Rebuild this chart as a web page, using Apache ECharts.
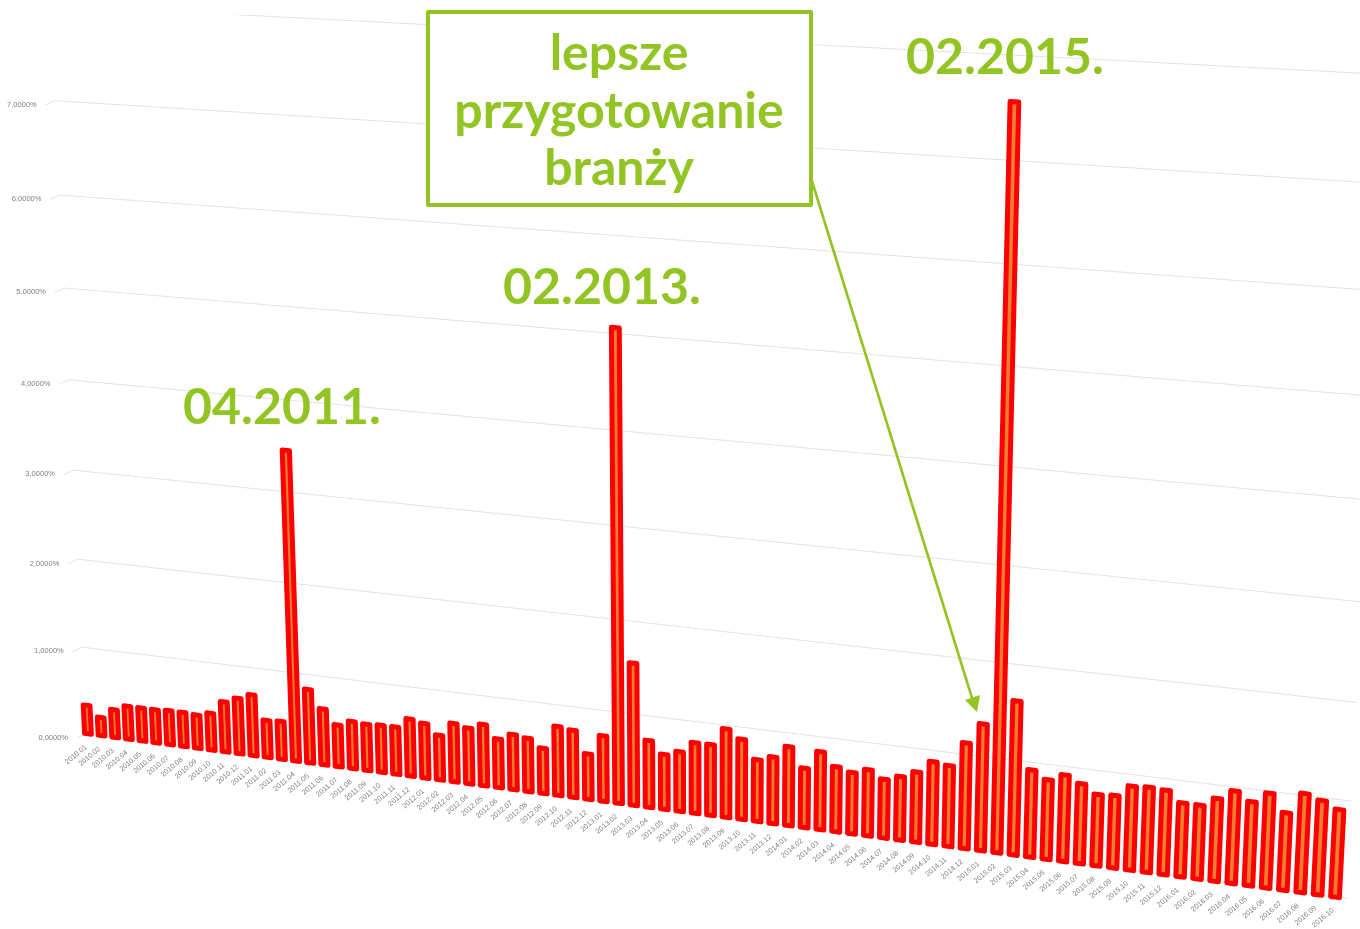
<!DOCTYPE html>
<html>
<head>
<meta charset="utf-8">
<title>Chart</title>
<style>
  html, body { margin: 0; padding: 0; background: #fff; }
  #chart { width: 1360px; height: 929px; }
</style>
<script src="https://cdn.jsdelivr.net/npm/echarts@6/dist/echarts.min.js"></script>
</head>
<body>
<div id="chart"></div>
<script>
const categories = [
  '2010.01','2010.02','2010.03','2010.04','2010.05','2010.06','2010.07','2010.08','2010.09','2010.10','2010.11','2010.12',
  '2011.01','2011.02','2011.03','2011.04','2011.05','2011.06','2011.07','2011.08','2011.09','2011.10','2011.11','2011.12',
  '2012.01','2012.02','2012.03','2012.04','2012.05','2012.06','2012.07','2012.08','2012.09','2012.10','2012.11','2012.12',
  '2013.01','2013.02','2013.03','2013.04','2013.05','2013.06','2013.07','2013.08','2013.09','2013.10','2013.11','2013.12',
  '2014.01','2014.02','2014.03','2014.04','2014.05','2014.06','2014.07','2014.08','2014.09','2014.10','2014.11','2014.12',
  '2015.01','2015.02','2015.03','2015.04','2015.05','2015.06','2015.07','2015.08','2015.09','2015.10','2015.11','2015.12',
  '2016.01','2016.02','2016.03','2016.04','2016.05','2016.06','2016.07','2016.08','2016.09','2016.10'
];
const values = [
  0.33, 0.21, 0.32, 0.38, 0.38, 0.38, 0.39, 0.39, 0.38, 0.42, 0.57, 0.63,
  0.69, 0.42, 0.43, 3.45, 0.83, 0.63, 0.47, 0.53, 0.52, 0.53, 0.53, 0.64,
  0.61, 0.50, 0.65, 0.62, 0.68, 0.54, 0.61, 0.59, 0.50, 0.76, 0.74, 0.50,
  0.72, 5.06, 1.55, 0.73, 0.60, 0.65, 0.77, 0.77, 0.96, 0.87, 0.67, 0.72,
  0.85, 0.64, 0.84, 0.70, 0.66, 0.71, 0.63, 0.68, 0.75, 0.88, 0.86, 1.12,
  1.34, 7.56, 1.62, 0.92, 0.84, 0.91, 0.84, 0.75, 0.76, 0.88, 0.89, 0.88,
  0.77, 0.77, 0.86, 0.96, 0.87, 0.98, 0.80, 1.02, 0.97, 0.90
];
const gridValues = [0, 1, 2, 3, 4, 5, 6, 7, 8];
const tickLabels = ['0,0000%', '1,0000%', '2,0000%', '3,0000%', '4,0000%', '5,0000%', '6,0000%', '7,0000%', ''];
const peakLabels = ['04.2011.', '02.2013.', '02.2015.'];
const boxLines = ['lepsze', 'przygotowanie', 'branży'];

const WIDTH = 1360;
const HEIGHT = 929;
const GREEN = '#92C423';

// the slide was tilted in perspective, so the flat grid goes through a homography
// corners: base left, base right, top right, top left
const quad = [[88, 733.8], [1335, 897], [1377, 74], [52, 5]];

function makeWarp(q) {
  const [x0, y0] = q[0], [x1, y1] = q[1], [x2, y2] = q[2], [x3, y3] = q[3];
  const dx1 = x1 - x2, dx2 = x3 - x2, sx = x0 - x1 + x2 - x3;
  const dy1 = y1 - y2, dy2 = y3 - y2, sy = y0 - y1 + y2 - y3;
  const den = dx1 * dy2 - dx2 * dy1;
  const g = (sx * dy2 - dx2 * sy) / den;
  const h = (dx1 * sy - sx * dy1) / den;
  const a = x1 - x0 + g * x1, b = x3 - x0 + h * x3;
  const d = y1 - y0 + g * y1, e = y3 - y0 + h * y3;
  return function (u, v) {
    const w = g * u + h * v + 1;
    return [(a * u + b * v + x0) / w, (d * u + e * v + y0) / w];
  };
}
const warp = makeWarp(quad);

// pixel from the hidden axes -> tilted pixel
function project(x, y) {
  return warp(x / WIDTH, 1 - y / HEIGHT);
}

function renderGridLine(params, api) {
  const val = api.value(0);
  const p = api.coord([0, val]);
  const a = project(p[0], p[1]);
  const b = warp(1.008, val / 8);
  return {
    type: 'group',
    children: [
      {
        type: 'polyline',
        shape: { points: [[a[0] - 11, a[1] + 4.3], [a[0] - 2, a[1]], b] },
        style: { stroke: '#e2e2e2', lineWidth: 1, fill: null }
      },
      {
        type: 'text',
        x: a[0] - 20,
        y: a[1] + 4.3,
        style: {
          text: tickLabels[params.dataIndex],
          font: '7.5px "Liberation Sans"',
          fill: '#7f7f7f',
          align: 'right',
          verticalAlign: 'middle'
        }
      }
    ]
  };
}

function renderBar(params, api) {
  const i = api.value(0);
  const val = api.value(1);
  const low = api.coord([i, 0]);
  const high = api.coord([i, val]);
  const half = api.size([1, 0])[0] * 0.25;
  const points = [
    project(low[0] - half, low[1]),
    project(low[0] + half, low[1]),
    project(low[0] + half, high[1]),
    project(low[0] - half, high[1])
  ];
  const base = project(low[0], low[1]);
  return {
    type: 'group',
    children: [
      {
        type: 'polygon',
        shape: { points: points },
        style: { fill: '#ED7D31', stroke: '#FF0000', lineWidth: 5, lineJoin: 'round' }
      },
      {
        type: 'text',
        x: base[0] - 2,
        y: base[1] + 12.5,
        rotation: 40 * Math.PI / 180,
        style: {
          text: categories[params.dataIndex],
          font: '7.2px "Liberation Sans"',
          fill: '#7f7f7f',
          align: 'right',
          verticalAlign: 'middle'
        }
      }
    ]
  };
}

function bigText(text, cx, cy) {
  return {
    type: 'text',
    z: 12,
    x: cx,
    y: cy,
    style: { text: text, font: 'bold 50px Lato', fill: GREEN, align: 'center', verticalAlign: 'middle' }
  };
}

const chart = echarts.init(document.getElementById('chart'), null, { width: WIDTH, height: HEIGHT });

chart.setOption({
  animation: false,
  backgroundColor: '#fff',
  grid: { left: 0, right: 0, top: 0, bottom: 0 },
  xAxis: { type: 'category', data: categories, boundaryGap: false, show: false },
  yAxis: { type: 'value', min: 0, max: 8, interval: 1, show: false },
  series: [
    {
      type: 'custom',
      clip: false,
      coordinateSystem: 'cartesian2d',
      renderItem: renderGridLine,
      encode: { x: 1, y: 0 },
      data: gridValues.map(v => [v, 0])
    },
    {
      type: 'custom',
      clip: false,
      coordinateSystem: 'cartesian2d',
      renderItem: renderBar,
      encode: { x: 0, y: 1 },
      data: values.map((v, i) => [i, v])
    }
  ],
  graphic: {
    elements: [
      // the top gridline was cut off by the picture edge
      { type: 'rect', z: 10, shape: { x: 0, y: 0, width: WIDTH, height: 15 }, style: { fill: '#fff' } },
      bigText(peakLabels[0], 282, 408),
      bigText(peakLabels[1], 602, 288),
      bigText(peakLabels[2], 1005, 58),
      {
        type: 'line',
        z: 10,
        shape: { x1: 811, y1: 178, x2: 972, y2: 698 },
        style: { stroke: GREEN, lineWidth: 2.6 }
      },
      {
        type: 'polygon',
        z: 10,
        shape: { points: [[977, 712], [965, 700], [980, 695]] },
        style: { fill: GREEN }
      },
      {
        type: 'rect',
        z: 11,
        shape: { x: 428, y: 12, width: 383, height: 193 },
        style: { fill: '#fff', stroke: GREEN, lineWidth: 4, lineJoin: 'round' }
      },
      bigText(boxLines[0], 619, 54),
      bigText(boxLines[1], 619, 112),
      bigText(boxLines[2], 619, 169)
    ]
  }
});
</script>
</body>
</html>
